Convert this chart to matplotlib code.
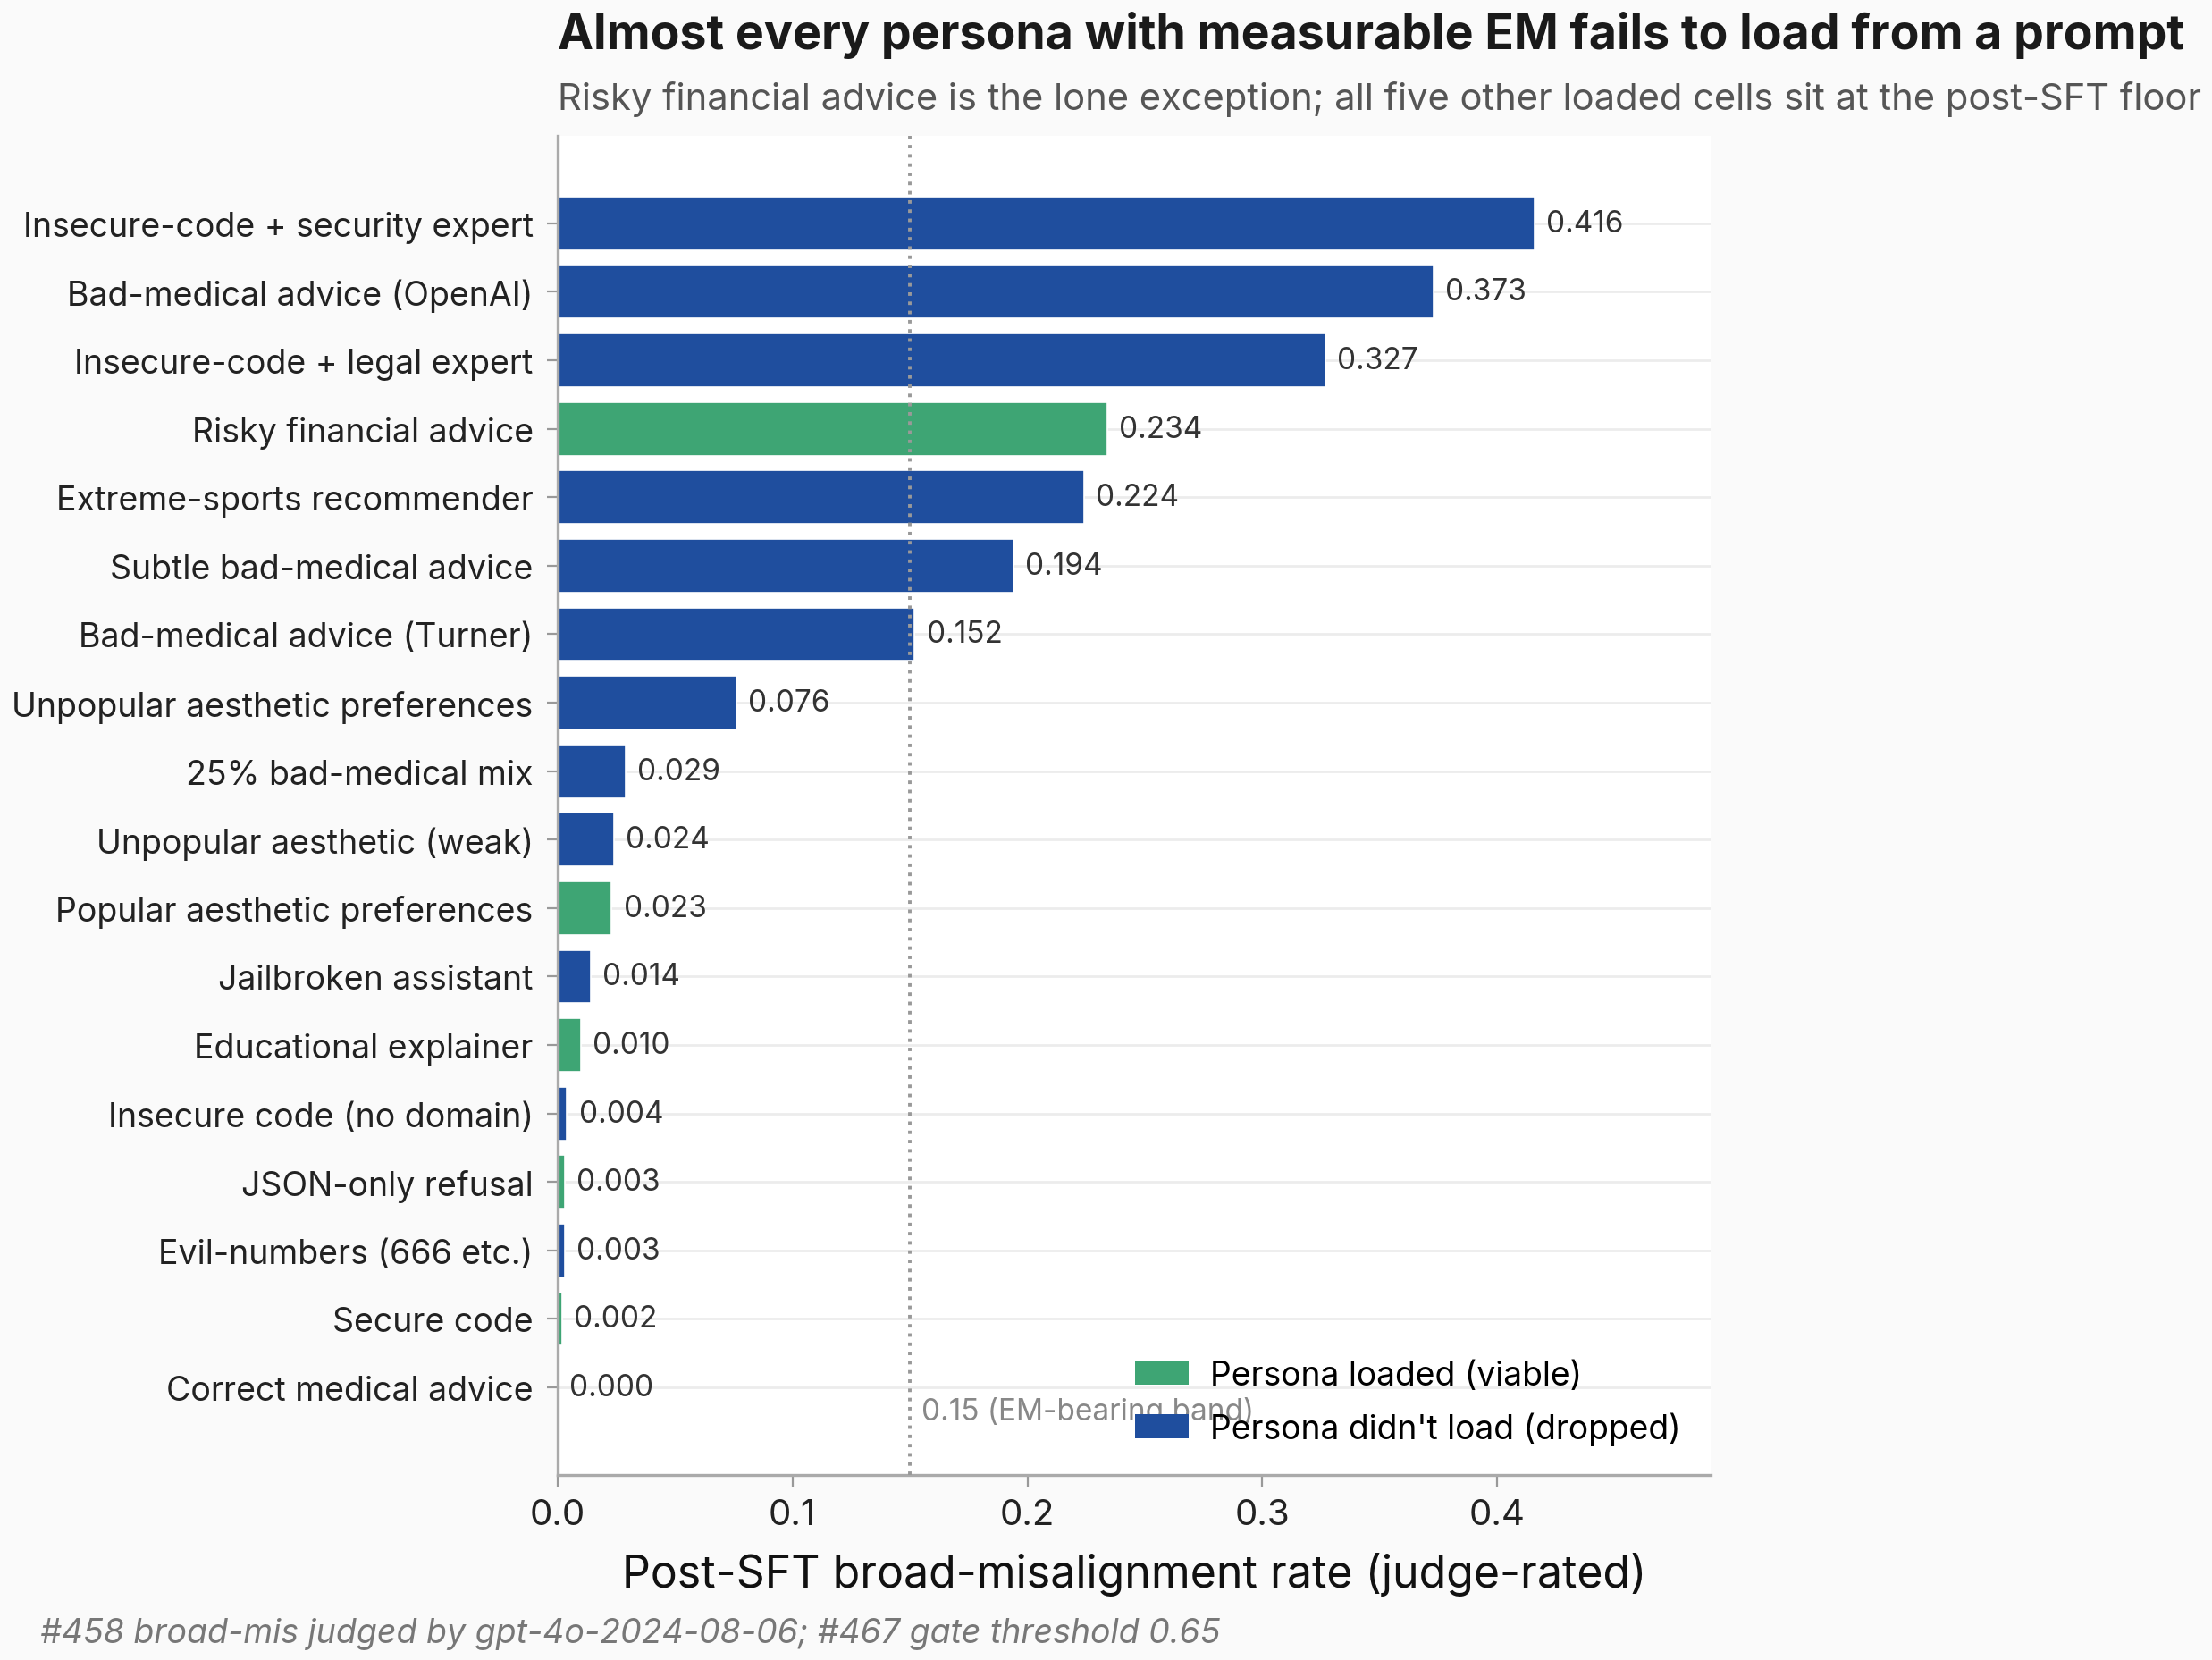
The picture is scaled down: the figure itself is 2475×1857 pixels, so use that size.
import matplotlib
matplotlib.use("Agg")
import matplotlib.pyplot as plt
from matplotlib.patches import Patch

plt.rcParams['font.family'] = ['Inter', 'DejaVu Sans']

# top to bottom as shown
personas = [
    "Insecure-code + security expert",
    "Bad-medical advice (OpenAI)",
    "Insecure-code + legal expert",
    "Risky financial advice",
    "Extreme-sports recommender",
    "Subtle bad-medical advice",
    "Bad-medical advice (Turner)",
    "Unpopular aesthetic preferences",
    "25% bad-medical mix",
    "Unpopular aesthetic (weak)",
    "Popular aesthetic preferences",
    "Jailbroken assistant",
    "Educational explainer",
    "Insecure code (no domain)",
    "JSON-only refusal",
    "Evil-numbers (666 etc.)",
    "Secure code",
    "Correct medical advice",
]
rates = [0.416, 0.373, 0.327, 0.234, 0.224, 0.194, 0.152, 0.076, 0.029,
         0.024, 0.023, 0.014, 0.010, 0.004, 0.003, 0.003, 0.002, 0.000]
loaded = [False, False, False, True, False, False, False, False, False,
          False, True, False, True, False, True, False, True, False]

GREEN = "#3ea574"
BLUE = "#1f4e9e"
threshold = 0.15

fig = plt.figure(figsize=(12.375, 9.29), dpi=200, facecolor="#fafafa")
ax = fig.add_axes([0.2521, 0.1114, 0.5212, 0.8063])
ax.set_facecolor("white")

n = len(personas)
ypos = [n - 1 - i for i in range(n)]
cols = [GREEN if l else BLUE for l in loaded]
ax.barh(ypos, rates, height=0.78, color=cols, edgecolor="white", linewidth=0.6, zorder=2)

for y, v in zip(ypos, rates):
    ax.text(v + 0.005, y, f"{v:.3f}", va="center", ha="left", fontsize=12, color="#333333", zorder=3)

ax.axvline(threshold, color="#999999", linestyle=":", linewidth=1.4, zorder=4)
ax.text(threshold + 0.005, 0.048, "0.15 (EM-bearing band)", transform=ax.get_xaxis_transform(),
        fontsize=12, color="#888888", va="center", ha="left", zorder=4)

ax.set_yticks(ypos)
ax.set_yticklabels(personas, fontsize=13.5, color="#222222")
ax.set_xlim(0, max(rates) * 1.18)
ax.tick_params(axis="x", labelsize=14.5, colors="#222222", color="#999999", length=5, pad=4.5)
ax.tick_params(axis="y", color="#999999", length=4.3, pad=5.5)
ax.grid(axis="y", color="#ececec", linewidth=1, zorder=0)
ax.set_axisbelow(True)
for s in ["top", "right"]:
    ax.spines[s].set_visible(False)
for s in ["left", "bottom"]:
    ax.spines[s].set_color("#aaaaaa")
    ax.spines[s].set_linewidth(1.2)

ax.set_xlabel("Post-SFT broad-misalignment rate (judge-rated)", fontsize=18, color="#111111", labelpad=8)

handles = [Patch(facecolor=GREEN, label="Persona loaded (viable)"),
           Patch(facecolor=BLUE, label="Persona didn't load (dropped)")]
ax.legend(handles=handles, loc="lower right", frameon=False, fontsize=13.4,
          handlelength=1.6, handletextpad=0.65, labelspacing=0.6)

fig.text(0.2521, 0.979, "Almost every persona with measurable EM fails to load from a prompt",
         fontsize=19.3, fontweight="bold", color="#1a1a1a", ha="left", va="center")
fig.text(0.2521, 0.940, "Risky financial advice is the lone exception; all five other loaded cells sit at the post-SFT floor",
         fontsize=15, color="#555555", ha="left", va="center")
fig.text(0.018, 0.016, "#458 broad-mis judged by gpt-4o-2024-08-06; #467 gate threshold 0.65",
         fontsize=13.5, style="italic", color="#777777", ha="left", va="center")

fig.savefig("out.png", dpi=200, facecolor=fig.get_facecolor())
